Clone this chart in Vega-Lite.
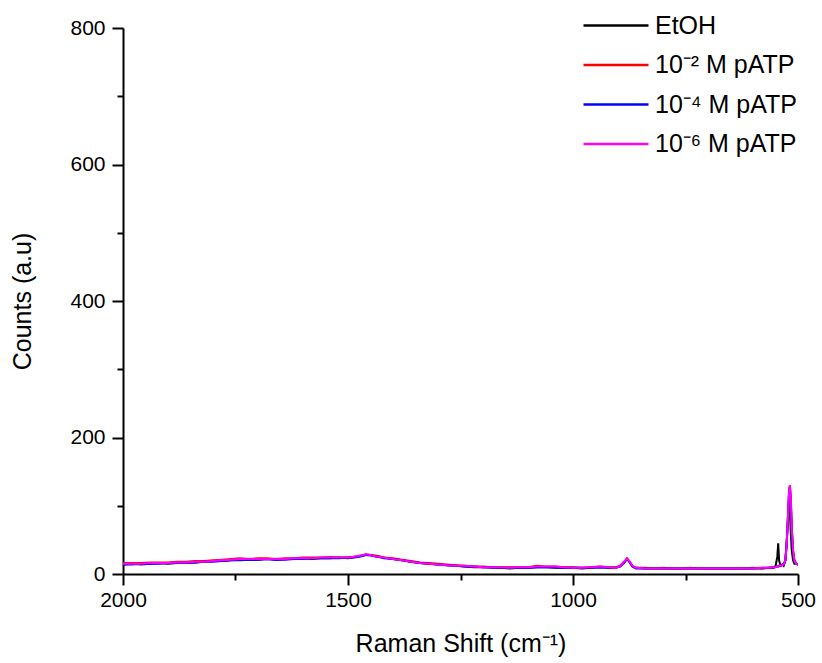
{
  "$schema": "https://vega.github.io/schema/vega-lite/v6.json",
  "autosize": "none",
  "width": 675,
  "height": 546,
  "padding": {"left": 123, "top": 28, "right": 24, "bottom": 89},
  "background": "white",
  "config": {
    "view": {"stroke": null},
    "font": "Liberation Sans",
    "axis": {"grid": false, "domainColor": "black", "domainWidth": 2, "tickColor": "black", "tickWidth": 2, "labelColor": "black", "titleColor": "black", "labelFont": "Liberation Sans", "titleFont": "Liberation Sans", "titleFontWeight": "normal"}
  },
  "data": {"values": [
    {"x":2000,"e":14,"r":16,"b":14,"m":15},
    {"x":1980,"e":15,"r":16,"b":14,"m":15},
    {"x":1960,"e":14,"r":16,"b":15,"m":15},
    {"x":1940,"e":15,"r":17,"b":15,"m":16},
    {"x":1920,"e":16,"r":17,"b":15,"m":16},
    {"x":1900,"e":15,"r":17,"b":16,"m":16},
    {"x":1880,"e":16,"r":18,"b":16,"m":17},
    {"x":1860,"e":17,"r":18,"b":16,"m":17},
    {"x":1840,"e":17,"r":19,"b":17,"m":18},
    {"x":1820,"e":18,"r":19,"b":18,"m":18},
    {"x":1800,"e":19,"r":20,"b":18,"m":19},
    {"x":1780,"e":19,"r":21,"b":19,"m":20},
    {"x":1760,"e":20,"r":22,"b":20,"m":21},
    {"x":1740,"e":21,"r":23,"b":20,"m":22},
    {"x":1720,"e":21,"r":22,"b":21,"m":22},
    {"x":1700,"e":21,"r":23,"b":21,"m":22},
    {"x":1680,"e":22,"r":23,"b":22,"m":22},
    {"x":1660,"e":21,"r":22,"b":21,"m":22},
    {"x":1640,"e":22,"r":23,"b":21,"m":22},
    {"x":1620,"e":22,"r":23,"b":22,"m":23},
    {"x":1600,"e":23,"r":24,"b":22,"m":23},
    {"x":1580,"e":22,"r":24,"b":23,"m":23},
    {"x":1560,"e":23,"r":24,"b":23,"m":24},
    {"x":1540,"e":23,"r":25,"b":23,"m":24},
    {"x":1520,"e":24,"r":24,"b":23,"m":24},
    {"x":1500,"e":23,"r":24,"b":24,"m":24},
    {"x":1490,"e":24,"r":25,"b":24,"m":25},
    {"x":1480,"e":25,"r":26,"b":25,"m":26},
    {"x":1470,"e":27,"r":27,"b":26,"m":27},
    {"x":1460,"e":28,"r":29,"b":28,"m":29},
    {"x":1450,"e":28,"r":28,"b":27,"m":28},
    {"x":1440,"e":26,"r":27,"b":26,"m":26},
    {"x":1430,"e":25,"r":26,"b":25,"m":25},
    {"x":1420,"e":24,"r":24,"b":23,"m":24},
    {"x":1400,"e":22,"r":23,"b":22,"m":22},
    {"x":1380,"e":20,"r":21,"b":20,"m":20},
    {"x":1360,"e":18,"r":19,"b":18,"m":18},
    {"x":1340,"e":16,"r":17,"b":16,"m":16},
    {"x":1320,"e":15,"r":16,"b":15,"m":15},
    {"x":1300,"e":14,"r":15,"b":14,"m":14},
    {"x":1280,"e":13,"r":14,"b":13,"m":13},
    {"x":1260,"e":12,"r":13,"b":12,"m":12},
    {"x":1240,"e":11,"r":12,"b":11,"m":12},
    {"x":1220,"e":10,"r":11,"b":11,"m":11},
    {"x":1200,"e":10,"r":11,"b":10,"m":10},
    {"x":1180,"e":9,"r":10,"b":10,"m":10},
    {"x":1160,"e":9,"r":10,"b":9,"m":10},
    {"x":1140,"e":8,"r":10,"b":9,"m":9},
    {"x":1120,"e":9,"r":10,"b":9,"m":10},
    {"x":1100,"e":9,"r":10,"b":9,"m":10},
    {"x":1080,"e":10,"r":12,"b":10,"m":11},
    {"x":1060,"e":10,"r":11,"b":10,"m":11},
    {"x":1040,"e":9,"r":11,"b":10,"m":11},
    {"x":1020,"e":9,"r":10,"b":9,"m":10},
    {"x":1000,"e":9,"r":10,"b":9,"m":9},
    {"x":980,"e":8,"r":9,"b":9,"m":9},
    {"x":960,"e":9,"r":10,"b":9,"m":10},
    {"x":940,"e":10,"r":11,"b":10,"m":11},
    {"x":920,"e":9,"r":10,"b":9,"m":10},
    {"x":905,"e":9,"r":10,"b":9,"m":9},
    {"x":895,"e":11,"r":12,"b":11,"m":12},
    {"x":885,"e":18,"r":19,"b":18,"m":19},
    {"x":880,"e":22,"r":23,"b":22,"m":23},
    {"x":875,"e":18,"r":19,"b":18,"m":19},
    {"x":868,"e":11,"r":12,"b":11,"m":12},
    {"x":860,"e":9,"r":9,"b":8,"m":9},
    {"x":840,"e":8,"r":9,"b":8,"m":8},
    {"x":820,"e":8,"r":8,"b":8,"m":8},
    {"x":800,"e":8,"r":9,"b":8,"m":8},
    {"x":780,"e":8,"r":8,"b":8,"m":8},
    {"x":760,"e":8,"r":8,"b":8,"m":8},
    {"x":740,"e":8,"r":9,"b":8,"m":8},
    {"x":720,"e":8,"r":8,"b":8,"m":8},
    {"x":700,"e":8,"r":8,"b":8,"m":8},
    {"x":680,"e":8,"r":8,"b":8,"m":8},
    {"x":660,"e":8,"r":8,"b":8,"m":8},
    {"x":640,"e":8,"r":8,"b":8,"m":8},
    {"x":620,"e":8,"r":8,"b":8,"m":8},
    {"x":600,"e":8,"r":9,"b":8,"m":8},
    {"x":580,"e":8,"r":8,"b":9,"m":9},
    {"x":565,"e":9,"r":9,"b":9,"m":9},
    {"x":555,"e":10,"r":9,"b":9,"m":10},
    {"x":550,"e":11,"r":10,"b":10,"m":10},
    {"x":546,"e":25,"r":11,"b":11,"m":11},
    {"x":544,"e":45,"r":11,"b":11,"m":11},
    {"x":542,"e":20,"r":12,"b":12,"m":12},
    {"x":539,"e":12,"r":12,"b":12,"m":12},
    {"x":535,"e":14,"r":13,"b":13,"m":13},
    {"x":532,"e":12,"r":14,"b":14,"m":14},
    {"x":528,"e":20,"r":20,"b":20,"m":20},
    {"x":525,"e":50,"r":45,"b":45,"m":45},
    {"x":522,"e":80,"r":90,"b":88,"m":90},
    {"x":520,"e":107,"r":120,"b":118,"m":120},
    {"x":518,"e":95,"r":130,"b":128,"m":130},
    {"x":516,"e":60,"r":110,"b":108,"m":110},
    {"x":514,"e":35,"r":70,"b":68,"m":70},
    {"x":511,"e":20,"r":35,"b":33,"m":35},
    {"x":508,"e":15,"r":20,"b":20,"m":20},
    {"x":504,"e":15,"r":15,"b":15,"m":15},
    {"x":500,"e":14,"r":14,"b":14,"m":14}
  ]},
  "transform": [{"fold": ["e", "r", "b", "m"], "as": ["series", "counts"]}],
  "mark": {"type": "line", "strokeWidth": 2, "clip": true},
  "encoding": {
    "x": {
      "field": "x", "type": "quantitative",
      "scale": {"domain": [500, 2000], "reverse": true, "nice": false},
      "axis": {
        "title": "Raman Shift (cm⁻¹)",
        "titleFontSize": 25, "titlePadding": 21,
        "values": [2000, 1750, 1500, 1250, 1000, 750, 500],
        "format": "d",
        "labelExpr": "datum.value % 500 === 0 ? datum.label : ''",
        "labelFontSize": 21, "labelPadding": 4, "labelFlush": false,
        "tickSize": {"condition": {"test": "datum.value % 500 === 0", "value": 11}, "value": 6}
      }
    },
    "y": {
      "field": "counts", "type": "quantitative",
      "scale": {"domain": [0, 800], "nice": false},
      "axis": {
        "title": "Counts (a.u)",
        "titleFontSize": 25, "titlePadding": 34,
        "values": [0, 100, 200, 300, 400, 500, 600, 700, 800],
        "format": "d",
        "labelExpr": "datum.value % 200 === 0 ? datum.label : ''",
        "labelFontSize": 21, "labelPadding": 7, "labelFlush": false,
        "tickSize": {"condition": {"test": "datum.value % 200 === 0", "value": 11}, "value": 6}
      }
    },
    "color": {
      "field": "series", "type": "nominal",
      "scale": {"domain": ["e", "r", "b", "m"], "range": ["#000000", "#ff0000", "#0000ff", "#ff00ff"]},
      "legend": {
        "title": null,
        "orient": "none", "legendX": 459, "legendY": -15,
        "symbolType": "stroke", "symbolSize": 4225, "symbolStrokeWidth": 2.5,
        "clipHeight": 25, "rowPadding": 13.5, "padding": 0,
        "labelFontSize": 25, "labelFont": "Liberation Sans", "labelColor": "black", "labelOffset": 5, "labelLimit": 300,
        "labelExpr": "{'e': 'EtOH', 'r': '10⁻² M pATP', 'b': '10⁻⁴ M pATP', 'm': '10⁻⁶ M pATP'}[datum.label]"
      }
    }
  }
}
